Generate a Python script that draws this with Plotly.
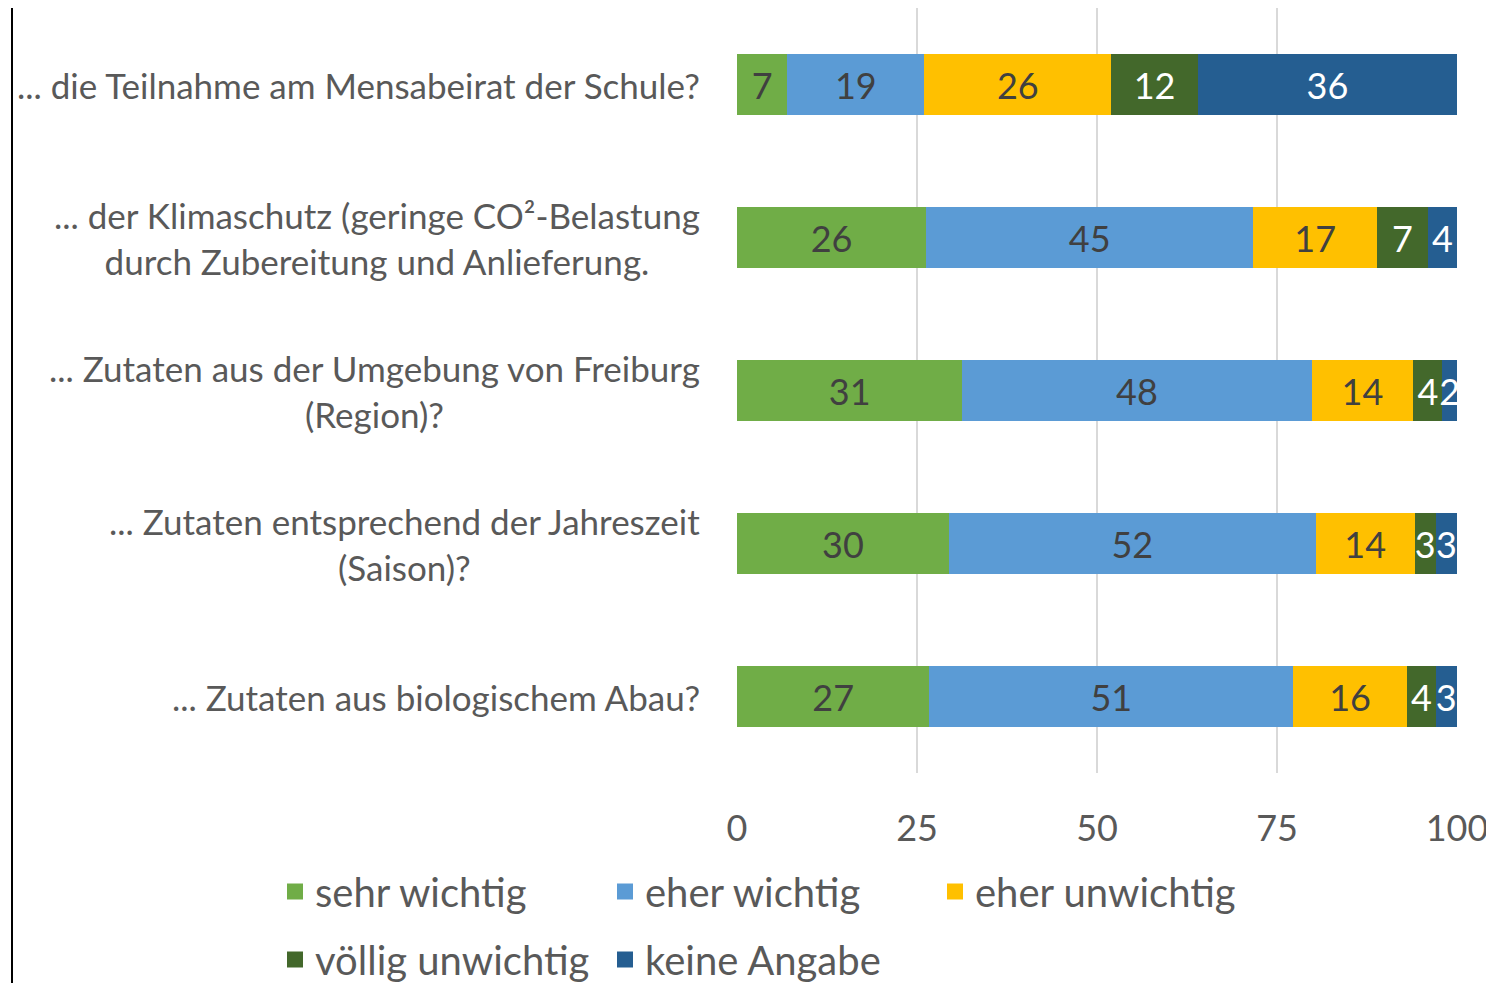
import plotly.graph_objects as go

categories = [
    "... die Teilnahme am Mensabeirat der Schule?",
    "... der Klimaschutz (geringe CO²-Belastung<br>durch Zubereitung und Anlieferung.",
    "... Zutaten aus der Umgebung von Freiburg<br>(Region)?",
    "... Zutaten entsprechend der Jahreszeit<br>(Saison)?",
    "... Zutaten aus biologischem Abau?",
]
series_names = ["sehr wichtig", "eher wichtig", "eher unwichtig", "völlig unwichtig", "keine Angabe"]
sehr_wichtig = [7, 26, 31, 30, 27]
eher_wichtig = [19, 45, 48, 52, 51]
eher_unwichtig = [26, 17, 14, 14, 16]
voellig_unwichtig = [12, 7, 4, 3, 4]
keine_angabe = [36, 4, 2, 3, 3]
x_ticks = [0, 25, 50, 75, 100]

series_values = [sehr_wichtig, eher_wichtig, eher_unwichtig, voellig_unwichtig, keine_angabe]
colors = ["#70AD47", "#5B9BD5", "#FFC000", "#43682B", "#255E91"]
text_colors = ["#404040", "#404040", "#404040", "#FFFFFF", "#FFFFFF"]
legend_ids = ["legend", "legend", "legend", "legend2", "legend2"]

FONT = "Lato"
OFF = 8  # page body margin
W, H = 1494 - OFF, 983 - OFF
L, R, T = 737 - OFF, 37, 0
PLOT_BOTTOM = 773 - OFF
B = H - PLOT_BOTTOM
pw, ph = W - L - R, H - T - B


def px_x(p):  # page pixel -> paper x
    return (p - OFF - L) / pw


def px_y(p):  # page pixel -> paper y
    return (PLOT_BOTTOM - (p - OFF)) / ph


fig = go.Figure()
for name, vals, col, tcol in zip(series_names, series_values, colors, text_colors):
    fig.add_trace(go.Bar(
        y=categories, x=vals, name=name, orientation="h",
        marker=dict(color=col, line=dict(width=0)),
        text=[str(v) for v in vals], texttemplate="%{text}",
        textposition="inside", insidetextanchor="middle", textangle=0,
        constraintext="none",
        textfont=dict(family=FONT, size=36, color=tcol),
        cliponaxis=False, showlegend=False, legendgroup=name,
    ))

# legend entries (square swatches)
for name, col, lg in zip(series_names, colors, legend_ids):
    fig.add_trace(go.Scatter(
        x=[None], y=[None], mode="markers", name=name, legendgroup=name,
        marker=dict(symbol="square", size=26, color=col), legend=lg,
        showlegend=True, hoverinfo="skip",
    ))

legend_common = dict(orientation="h", xanchor="left", yanchor="top",
                     entrywidth=285, entrywidthmode="pixels", itemsizing="trace",
                     font=dict(family=FONT, size=40, color="#595959"),
                     traceorder="normal", itemclick=False, bgcolor="rgba(0,0,0,0)")

fig.update_layout(
    barmode="stack", barnorm="percent", bargap=0.595,
    width=W, height=H,
    margin=dict(l=L, r=R, t=T, b=B, autoexpand=False),
    paper_bgcolor="white", plot_bgcolor="white",
    font=dict(family=FONT, color="#595959"),
    uniformtext=dict(minsize=36, mode="show"),
    xaxis=dict(range=[0, 100.0001], tickvals=x_ticks, showgrid=True, gridcolor="#D9D9D9",
               gridwidth=2, zeroline=False, showline=False, ticks="",
               ticklabelstandoff=31, tickfont=dict(family=FONT, size=36, color="#595959")),
    yaxis=dict(categoryorder="array", categoryarray=categories, autorange="reversed",
               showticklabels=False, showgrid=False, zeroline=False, showline=False),
    legend=dict(x=px_x(275), y=px_y(859), **legend_common),
    legend2=dict(x=px_x(275), y=px_y(927), **legend_common),
)

for cat in categories:
    fig.add_annotation(x=px_x(702), xref="paper", y=cat, yref="y", text=cat,
                       showarrow=False, xanchor="right", align="center",
                       font=dict(family=FONT, size=35, color="#595959"))

fig.add_shape(type="line", xref="paper", yref="paper",
              x0=px_x(12), x1=px_x(12), y0=px_y(1000), y1=px_y(-10),
              line=dict(color="black", width=2))

fig.write_html("out.html")
